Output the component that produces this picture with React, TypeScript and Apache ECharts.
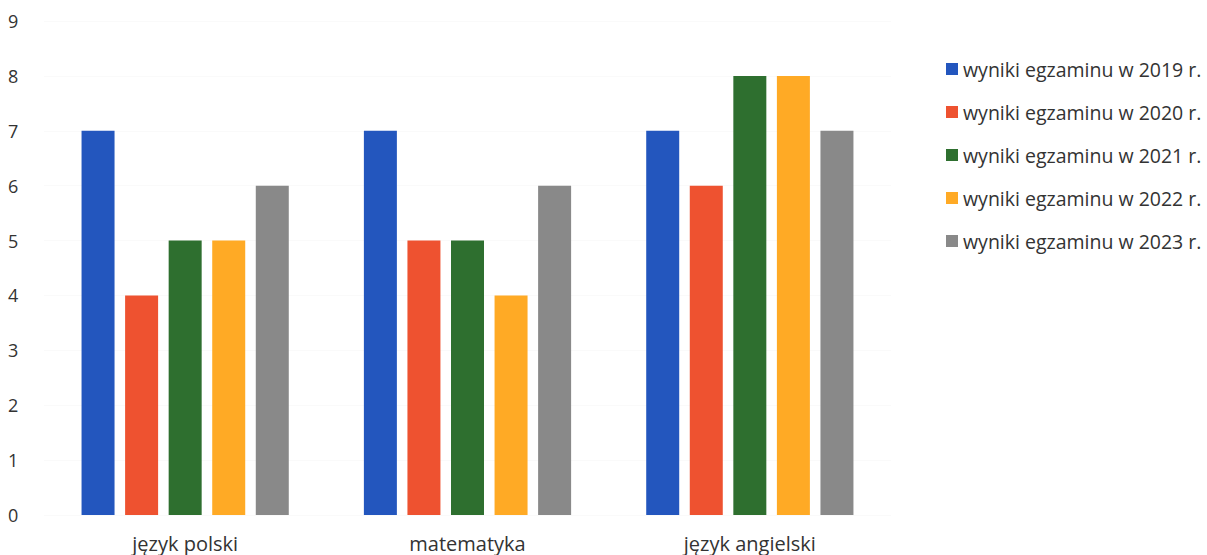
import React, { useEffect, useRef } from "react";
import * as echarts from "echarts";

const categories = ["język polski", "matematyka", "język angielski"];
const seriesNames = [
  "wyniki egzaminu w 2019 r.",
  "wyniki egzaminu w 2020 r.",
  "wyniki egzaminu w 2021 r.",
  "wyniki egzaminu w 2022 r.",
  "wyniki egzaminu w 2023 r.",
];
const values2019 = [7, 7, 7];
const values2020 = [4, 5, 6];
const values2021 = [5, 5, 8];
const values2022 = [5, 4, 8];
const values2023 = [6, 6, 7];
const colors = ["#2356BE", "#EE5230", "#2E6F2F", "#FFAA25", "#898989"];

export default function App() {
  const ref = useRef<HTMLDivElement>(null);
  useEffect(() => {
    const chart = echarts.init(ref.current!, undefined, { renderer: "svg" });
    const all = [values2019, values2020, values2021, values2022, values2023];
    chart.setOption({
      animation: false,
      color: colors,
      textStyle: { fontFamily: "Open Sans" },
      grid: { left: 44, right: 316, top: 21, bottom: 40 },
      legend: {
        orient: "vertical",
        left: 941,
        top: 54,
        itemWidth: 12,
        itemHeight: 12,
        itemGap: 23,
        icon: "rect",
        textStyle: { fontSize: 19.5, lineHeight: 20, color: "#333", fontFamily: "Open Sans" },
        data: seriesNames,
      },
      xAxis: {
        type: "category",
        data: categories,
        axisLine: { show: false },
        axisTick: { show: false },
        axisLabel: { fontSize: 20, color: "#333", margin: 18 },
      },
      yAxis: {
        type: "value",
        min: 0,
        max: 9,
        interval: 1,
        axisLine: { show: false },
        axisTick: { show: false },
        splitLine: { lineStyle: { color: "#fafafa" } },
        axisLabel: { fontSize: 18, color: "#333", align: "left", margin: 36 },
      },
      series: all.map((d, i) => ({
        name: seriesNames[i],
        type: "bar",
        data: d,
        barGap: "32%",
        barCategoryGap: "26.6%",
      })),
    });
    return () => chart.dispose();
  }, []);
  return <div ref={ref} style={{ width: 1207, height: 555, position: "fixed", left: 0, top: 0, background: "#fff" }} />;
}
